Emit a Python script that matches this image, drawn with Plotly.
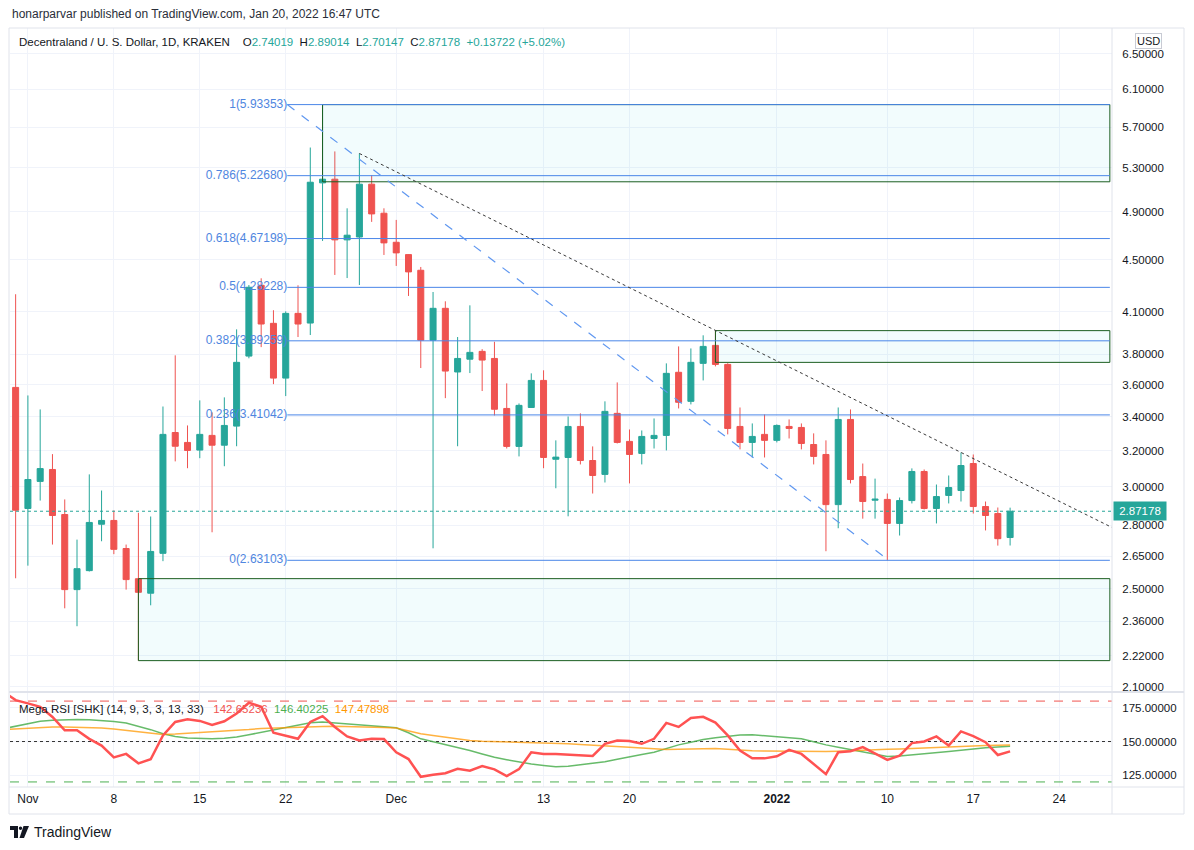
import numpy as np
import pandas as pd
import plotly.graph_objects as go

# ---------------- data ----------------
dates = pd.date_range("2021-10-31", "2022-01-20", freq="D")
opens = [3.582, 2.886, 3.029, 3.094, 2.855, 2.497, 2.583, 2.806, 2.825, 2.687,
         2.546, 2.481, 2.664, 3.305, 3.247, 3.203, 3.288, 3.231, 3.343, 3.788,
         4.298, 4.016, 3.642, 4.088, 4.018, 5.160, 5.194, 4.661, 4.685, 5.148,
         4.888, 4.641, 4.540, 4.415, 3.897, 4.125, 3.682, 3.767, 3.820, 3.772,
         3.450, 3.224, 3.456, 3.627, 3.151, 3.161, 3.341, 3.144, 3.067, 3.420,
         3.253, 3.184, 3.270, 3.288, 3.680, 3.494, 3.739, 3.861, 3.732, 3.341,
         3.247, 3.294, 3.259, 3.341, 3.335, 3.235, 3.178, 2.906, 3.383, 3.055,
         2.929, 2.933, 2.810, 2.927, 3.083, 2.886, 2.954, 2.980, 3.127, 2.896,
         2.860, 2.74019]
highs = [4.230, 3.531, 3.444, 3.180, 2.933, 2.730, 3.067, 2.980, 2.876, 2.706,
         2.864, 2.845, 3.462, 3.793, 3.347, 3.500, 3.426, 3.519, 3.973, 4.300,
         4.352, 4.111, 4.103, 4.298, 5.496, 5.93353, 5.458, 4.931, 5.438, 5.231,
         4.931, 4.830, 4.543, 4.441, 4.247, 4.177, 3.919, 4.147, 3.835, 3.886,
         3.608, 3.481, 3.673, 3.693, 3.259, 3.401, 3.420, 3.224, 3.494, 3.614,
         3.323, 3.317, 3.389, 3.739, 3.854, 3.840, 3.931, 3.964, 3.740, 3.456,
         3.359, 3.413, 3.353, 3.383, 3.359, 3.300, 3.259, 3.456, 3.444, 3.127,
         3.044, 2.964, 2.943, 3.100, 3.094, 3.012, 3.061, 3.189, 3.178, 2.922,
         2.891, 2.89014]
lows = [2.548, 2.606, 2.927, 2.706, 2.415, 2.339, 2.579, 2.722, 2.660, 2.497,
        2.200, 2.428, 2.627, 3.139, 3.101, 3.157, 2.766, 3.112, 3.225, 3.773,
        3.849, 3.603, 3.527, 3.919, 3.933, 4.652, 4.378, 4.354, 4.300, 4.813,
        4.537, 4.449, 4.217, 3.708, 2.688, 3.514, 3.225, 3.675, 3.559, 3.407,
        3.212, 3.167, 3.455, 3.101, 2.992, 2.846, 3.122, 2.964, 3.023, 3.241,
        3.018, 3.122, 3.212, 3.201, 3.450, 3.475, 3.627, 3.719, 3.294, 3.207,
        3.161, 3.161, 3.247, 3.270, 3.207, 3.122, 2.674, 2.786, 3.018, 2.834,
        2.834, 2.63103, 2.750, 2.912, 2.881, 2.810, 2.912, 2.922, 2.860, 2.775,
        2.701, 2.70147]
closes = [2.877, 3.039, 3.099, 2.850, 2.497, 2.592, 2.815, 2.825, 2.683, 2.542,
          2.485, 2.673, 3.294, 3.225, 3.201, 3.294, 3.231, 3.347, 3.746, 4.283,
          4.011, 3.642, 4.088, 4.011, 5.166, 5.194, 4.661, 4.700, 5.148, 4.882,
          4.636, 4.554, 4.402, 3.897, 4.125, 3.688, 3.772, 3.813, 3.761, 3.445,
          3.224, 3.469, 3.627, 3.161, 3.163, 3.341, 3.144, 3.061, 3.432, 3.247,
          3.178, 3.282, 3.288, 3.673, 3.488, 3.746, 3.854, 3.732, 3.329, 3.247,
          3.282, 3.259, 3.347, 3.329, 3.241, 3.167, 2.906, 3.383, 3.039, 2.922,
          2.934, 2.810, 2.927, 3.083, 2.886, 2.948, 2.996, 3.116, 2.896, 2.850,
          2.73456, 2.87178]

rsi_dates = pd.date_range("2021-10-30", "2022-01-20", freq="D")
rsi_main = [187, 180.7, 178.3, 175.7, 168.2, 158.3, 158.3, 152, 147, 138.2,
            140.8, 133.8, 136.8, 154.5, 164.5, 166.5, 165.3, 162.3, 165, 170.8,
            178.8, 175.8, 156.5, 154, 152, 164.5, 168.8, 160.8, 153.8, 150.8,
            152, 151.8, 142, 137, 123.8, 125.3, 126.5, 129.8, 128.3, 131.8,
            129.3, 124.3, 129.5, 142, 140.8, 140.8, 140.3, 139.5, 139.3, 148.3,
            150.8, 150.3, 148.3, 152, 163.8, 160.8, 167.5, 168.3, 164, 154.5,
            143.3, 137.5, 137.5, 139, 143.8, 140.8, 133.3, 125.8, 142, 142.8,
            145.8, 141.3, 136.3, 139.5, 148.8, 150, 153.8, 147, 157.5, 154,
            149.5, 140, 142.65236]
rsi_green = [159.5, 161.5, 163.5, 165, 165.8, 166.2, 166.3, 166.2, 165.6, 164.8,
             163.8, 161.5, 158.8, 155.8, 153.8, 152.6, 152.1, 152, 152.4, 153.3,
             155, 156.9, 158.8, 160.6, 162.5, 164, 164.4, 163.8, 163.2, 162.6,
             161.8, 161, 160.2, 156.5, 152, 149.8, 147.8, 145.8, 143.3, 140.8,
             138.3, 136.5, 134.8, 133.3, 132.2, 131.3, 131.7, 132.8, 133.8, 135,
             136.9, 138.8, 140.4, 142, 144.8, 147.5, 149.5, 151.5, 152.8, 154,
             154.8, 155, 154.2, 153.2, 152.6, 152, 149.8, 147.5, 145.8, 144,
             142.3, 140.5, 138.8, 139.3, 140, 140.8, 141.7, 142.5, 143.5, 144.6,
             145.4, 146, 146.40225]
rsi_orange = [158.8, 159.3, 159.8, 160.3, 160.8, 160.7, 160.5, 160.2, 160, 159.2,
              158.2, 157, 156, 155.2, 155.5, 156, 156.5, 157, 157.5, 158.2,
              158.9, 159.7, 160.1, 160.4, 160.7, 161, 161.2, 161.3, 161.2, 161,
              160.7, 160.4, 160, 158, 155.8, 154.5, 153.2, 151.9, 150.7, 150.2,
              150, 149.8, 149.6, 149.4, 149.2, 149, 148.4, 147.8, 147.4, 147,
              146.4, 145.8, 145.2, 144.6, 144, 144.2, 144.4, 144.6, 144.8, 144.3,
              143.6, 143.1, 142.9, 142.8, 142.6, 142.4, 142.3, 142.5, 142.8, 143.3,
              143.7, 144, 144.3, 144.5, 144.9, 145.3, 145.8, 146.3, 146.6, 146.9,
              147.1, 147.3, 147.47898]
rsi_levels = [180, 150, 120]

fib_levels = ["1", "0.786", "0.618", "0.5", "0.382", "0.236", "0"]
fib_prices = [5.93353, 5.22680, 4.67198, 4.28228, 3.89259, 3.41042, 2.63103]
fib_start = "2021-11-22 03:00"
fib_diag_end = "2022-01-10 03:00"
draw_end = "2022-01-28 03:00"

box_starts = ["2021-11-25", "2021-12-27", "2021-11-10"]
box_lows = [5.17, 3.7458, 2.1997]
box_highs = [5.93353, 3.964, 2.5463]

trend_dates = ["2021-11-28", "2022-01-28 07:00"]
trend_prices = [5.438, 2.790]

x_range = ["2021-10-30 13:00", "2022-01-28 07:12"]
x_tickvals = ["2021-11-01", "2021-11-08", "2021-11-15", "2021-11-22", "2021-12-01",
              "2021-12-13", "2021-12-20", "2022-01-01", "2022-01-10", "2022-01-17",
              "2022-01-24"]
x_ticktext = ["Nov", "8", "15", "22", "Dec", "13", "20", "<b>2022</b>", "10", "17", "24"]
price_ticks = [6.5, 6.1, 5.7, 5.3, 4.9, 4.5, 4.1, 3.8, 3.6, 3.4, 3.2, 3.0, 2.8,
               2.65, 2.5, 2.36, 2.22, 2.1]
price_range = [2.0837, 6.8027]
rsi_ticks = [175, 150, 125]
rsi_range = [116.25, 186]

# ---------------- styling ----------------
# page (screenshot) coordinates are used below; the html body adds an 8px margin
OFF = 8
PAGE_W, PAGE_H = 1194, 850
W, H = PAGE_W - 2 * OFF, PAGE_H - 2 * OFF
PL, PR, PT, PB = 10, 1112, 28, 787          # plot area in page coords
L, R, T, B = PL - OFF, W - (PR - OFF), PT - OFF, H - (PB - OFF)
FONT = "Liberation Sans, Arial, sans-serif"
UP, DOWN = "#26a69a", "#ef5350"
FIB = "#4a86e8"
BOXLINE = "#1b5e20"
GRID = "#f0f3fa"
FRAME = "#e0e3eb"
TXT = "#131722"


def px(x):
    return (x - PL) / (PR - PL)


def py(y):
    return (PB - y) / (PB - PT)


fig = go.Figure()

# boxes
for x0, lo, hi in zip(box_starts, box_lows, box_highs):
    fig.add_trace(go.Scatter(
        x=[x0, draw_end, draw_end, x0, x0], y=[lo, lo, hi, hi, lo],
        mode="lines", fill="toself", fillcolor="rgba(0,188,212,0.05)",
        line=dict(color=BOXLINE, width=1), hoverinfo="skip", showlegend=False,
        xaxis="x", yaxis="y"))

# fib lines
for p in fib_prices:
    fig.add_trace(go.Scatter(x=[fib_start, draw_end], y=[p, p], mode="lines",
                             line=dict(color=FIB, width=1), hoverinfo="skip",
                             showlegend=False, xaxis="x", yaxis="y"))
fig.add_trace(go.Scatter(
    x=[fib_start] * len(fib_prices), y=fib_prices, mode="text",
    text=[f"{l}({p:.5f})" for l, p in zip(fib_levels, fib_prices)],
    textposition="middle left", textfont=dict(color="#4f86e0", size=12, family=FONT),
    hoverinfo="skip", showlegend=False, xaxis="x", yaxis="y"))

# fib diagonal
fig.add_trace(go.Scatter(x=[fib_start, fib_diag_end], y=[fib_prices[0], fib_prices[-1]],
                         mode="lines", line=dict(color="#5f97f0", width=1.2, dash="dash"),
                         hoverinfo="skip", showlegend=False, xaxis="x", yaxis="y"))
# dotted trend line
fig.add_trace(go.Scatter(x=trend_dates, y=trend_prices, mode="lines",
                         line=dict(color="#3a3a3a", width=1, dash="dot"),
                         hoverinfo="skip", showlegend=False, xaxis="x", yaxis="y"))
# current price line
fig.add_trace(go.Scatter(x=x_range, y=[closes[-1]] * 2, mode="lines",
                         line=dict(color=UP, width=1, dash="dot"),
                         hoverinfo="skip", showlegend=False, xaxis="x", yaxis="y"))

# candles
fig.add_trace(go.Candlestick(
    x=dates, open=opens, high=highs, low=lows, close=closes,
    increasing=dict(line=dict(color=UP, width=1), fillcolor=UP),
    decreasing=dict(line=dict(color=DOWN, width=1), fillcolor=DOWN),
    whiskerwidth=0, showlegend=False, hoverinfo="skip", xaxis="x", yaxis="y"))

# RSI levels
for lvl, col, dash in zip(rsi_levels, ["#f05350", "#333333", "#4caf50"],
                          ["dash", "dot", "dash"]):
    fig.add_trace(go.Scatter(x=x_range, y=[lvl, lvl], mode="lines",
                             line=dict(color=col, width=1, dash=dash),
                             hoverinfo="skip", showlegend=False, xaxis="x2", yaxis="y2"))
fig.add_trace(go.Scatter(x=rsi_dates, y=rsi_green, mode="lines",
                         line=dict(color="rgba(76,175,80,0.85)", width=1.5),
                         hoverinfo="skip", showlegend=False, xaxis="x2", yaxis="y2"))
fig.add_trace(go.Scatter(x=rsi_dates, y=rsi_orange, mode="lines",
                         line=dict(color="rgba(255,152,0,0.75)", width=1.5),
                         hoverinfo="skip", showlegend=False, xaxis="x2", yaxis="y2"))
fig.add_trace(go.Scatter(x=rsi_dates, y=rsi_main, mode="lines",
                         line=dict(color="#ff5252", width=2.5),
                         hoverinfo="skip", showlegend=False, xaxis="x2", yaxis="y2"))

price_dom = [py(691), 1]
rsi_dom = [0, py(693)]

axis_font = dict(family=FONT, size=11.5, color=TXT)
fig.update_layout(
    width=W, height=H, margin=dict(l=L, r=R, t=T, b=B, pad=0),
    paper_bgcolor="white", plot_bgcolor="white",
    font=dict(family=FONT, color=TXT),
    showlegend=False, hovermode=False,
    xaxis=dict(type="date", range=x_range, domain=[0, 1], anchor="y",
               tickvals=x_tickvals, ticktext=x_ticktext, showticklabels=False,
               showgrid=True, gridcolor=GRID, gridwidth=1, zeroline=False,
               showline=False, rangeslider=dict(visible=False), fixedrange=True),
    xaxis2=dict(type="date", range=x_range, domain=[0, 1], anchor="y2", matches="x",
                tickvals=x_tickvals, ticktext=x_ticktext, showticklabels=True,
                ticks="outside", ticklen=1, tickcolor="rgba(0,0,0,0)",
                tickfont=dict(family=FONT, size=12, color=TXT),
                showgrid=True, gridcolor=GRID, zeroline=False, showline=False),
    yaxis=dict(type="log", range=[np.log10(price_range[0]), np.log10(price_range[1])],
               domain=price_dom, anchor="x", side="right",
               tickvals=price_ticks, ticktext=[f"{v:.5f}" for v in price_ticks],
               ticks="outside", ticklen=7, tickcolor="rgba(0,0,0,0)",
               tickfont=axis_font, showgrid=True, gridcolor=GRID,
               zeroline=False, showline=False),
    yaxis2=dict(range=rsi_range, domain=rsi_dom, anchor="x2", side="right",
                tickvals=rsi_ticks, ticktext=[f"{v:.5f}" for v in rsi_ticks],
                ticks="outside", ticklen=7, tickcolor="rgba(0,0,0,0)",
                tickfont=axis_font, showgrid=True, gridcolor=GRID,
                zeroline=False, showline=False),
)

# frame shapes
shapes = [
    dict(type="rect", xref="paper", yref="paper", x0=px(9), x1=px(1184), y0=py(814), y1=py(28),
         line=dict(color=FRAME, width=1), fillcolor="rgba(0,0,0,0)"),
    dict(type="line", xref="paper", yref="paper", x0=px(1112), x1=px(1112), y0=py(814), y1=py(28),
         line=dict(color=FRAME, width=1)),
    dict(type="line", xref="paper", yref="paper", x0=px(9), x1=px(1184), y0=py(692), y1=py(692),
         line=dict(color=FRAME, width=2)),
    dict(type="line", xref="paper", yref="paper", x0=px(9), x1=px(1184), y0=py(787), y1=py(787),
         line=dict(color=FRAME, width=1)),
    # TradingView logo (approximation)
    dict(type="rect", xref="paper", yref="paper", x0=px(10), x1=px(18), y0=py(830), y1=py(826),
         fillcolor="#131722", line=dict(width=0)),
    dict(type="rect", xref="paper", yref="paper", x0=px(14), x1=px(18), y0=py(838), y1=py(826),
         fillcolor="#131722", line=dict(width=0)),
    dict(type="circle", xref="paper", yref="paper", x0=px(18.8), x1=px(22.2), y0=py(830), y1=py(826.6),
         fillcolor="#131722", line=dict(width=0)),
    dict(type="path", xref="paper", yref="paper",
         path=f"M {px(23.5)},{py(826)} L {px(29)},{py(826)} L {px(24)},{py(838)} L {px(19.5)},{py(838)} Z",
         fillcolor="#131722", line=dict(width=0)),
]
fig.update_layout(shapes=shapes)

g = UP
sp2 = "&nbsp;&nbsp;"
sp3 = "&nbsp;&nbsp;&nbsp;"
sp4 = "&nbsp;&nbsp;&nbsp;&nbsp;"
annotations = [
    dict(xref="paper", yref="paper", x=px(10), y=py(14), xanchor="left", yanchor="middle",
         text="honarparvar published on TradingView.com, Jan 20, 2022 16:47 UTC",
         showarrow=False, font=dict(family=FONT, size=12, color="#2a2e39")),
    dict(xref="paper", yref="paper", x=px(17), y=py(42), xanchor="left", yanchor="middle",
         text=(f"Decentraland / U. S. Dollar, 1D, KRAKEN{sp4}O<span style='color:{g}'>{opens[-1]:.5f}</span>"
               f"{sp2}H<span style='color:{g}'>{highs[-1]:.5f}</span>"
               f"{sp2}L<span style='color:{g}'>{lows[-1]:.5f}</span>"
               f"{sp2}C<span style='color:{g}'>{closes[-1]:.5f}</span>"
               f"{sp2}<span style='color:{g}'>+{closes[-1]-closes[-2]:.5f} (+5.02%)</span>"),
         showarrow=False, font=dict(family=FONT, size=11.5, color=TXT)),
    dict(xref="paper", yref="paper", x=px(17), y=py(709), xanchor="left", yanchor="middle",
         text=(f"Mega RSI [SHK] (14, 9, 3, 3, 13, 33){sp3}<span style='color:#f05350'>{rsi_main[-1]:.5f}</span>"
               f"{sp2}<span style='color:#4caf50'>{rsi_green[-1]:.5f}</span>"
               f"{sp2}<span style='color:#ff9800'>{rsi_orange[-1]:.5f}</span>"),
         showarrow=False, font=dict(family=FONT, size=11.5, color=TXT)),
    dict(xref="paper", yref="paper", x=px(1148), y=py(41), xanchor="center", yanchor="middle",
         text="USD", showarrow=False, bgcolor="white", bordercolor="#c8cbd4", borderwidth=1,
         borderpad=1, font=dict(family=FONT, size=11, color=TXT)),
    dict(xref="paper", yref="y", x=px(1112.5), y=np.log10(closes[-1]), xanchor="left",
         yanchor="middle", text=f"{closes[-1]:.5f}", showarrow=False, bgcolor=UP,
         width=48, height=14, align="center", borderpad=2,
         font=dict(family=FONT, size=11.5, color="white")),
    dict(xref="paper", yref="paper", x=px(32), y=py(832), xanchor="left", yanchor="middle",
         text="TradingView", showarrow=False, font=dict(family=FONT, size=14, color=TXT)),
]
fig.update_layout(annotations=annotations)

fig.write_html("out.html", config={"displayModeBar": False})
